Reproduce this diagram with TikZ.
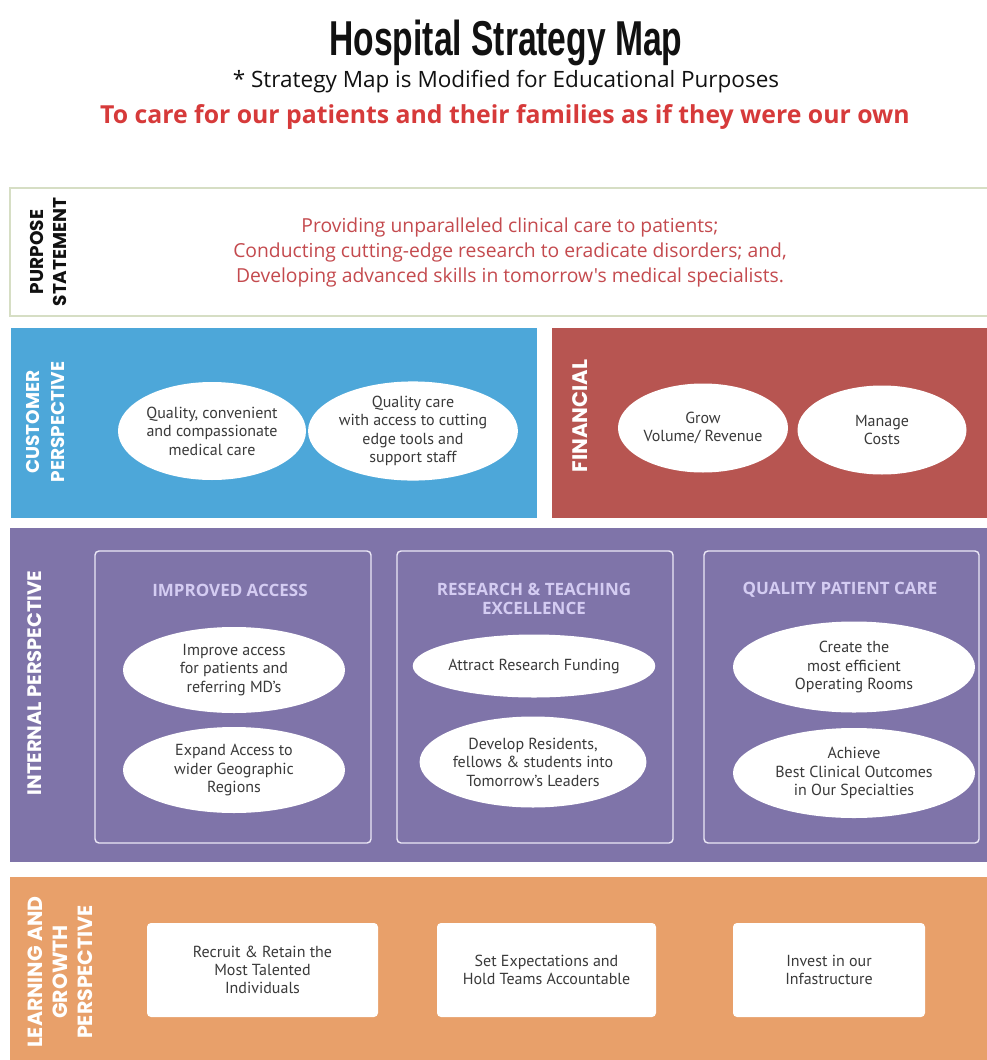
\documentclass[tikz,border=0pt]{standalone}
\usepackage{fontspec}
\setmainfont{PT Sans}
\newfontfamily\titlefont{Liberation Sans}
\newfontfamily\bodyfont{Open Sans}
\newfontfamily\capsfont{Poppins}
\usepackage{tikz}
\usetikzlibrary{positioning,shapes.geometric}
\definecolor{ink}{HTML}{111111}
\definecolor{mission}{HTML}{D63A3A}
\definecolor{purposeRed}{HTML}{C44A4E}
\definecolor{purposeLine}{HTML}{D6DEC4}
\definecolor{custBlue}{HTML}{4DA7D9}
\definecolor{finRed}{HTML}{B75551}
\definecolor{intPurple}{HTML}{7F74A9}
\definecolor{growOrange}{HTML}{E8A06A}
\definecolor{lavender}{HTML}{D4CCF2}
\definecolor{groupLine}{HTML}{ECE8F6}
\definecolor{goalText}{HTML}{3A3A3A}

\begin{document}
\begin{tikzpicture}[x=1pt,y=-1pt,
    band/.style={anchor=north west, inner sep=0pt, outer sep=0pt},
    persp/.style={rotate=90, text=white, inner sep=0pt, align=center,
      font=\capsfont\bfseries\fontsize{18.5}{25}\selectfont},
    goal/.style={ellipse, fill=white, inner sep=0pt, align=center, text=goalText,
      font=\fontsize{16}{18.5}\selectfont},
    group/.style={band, draw=groupLine, line width=1.4pt, rounded corners=4pt},
    grouphead/.style={text=lavender, align=center,
      font=\bodyfont\bfseries\fontsize{17}{19}\selectfont},
    enabler/.style={fill=white, rounded corners=4pt, inner sep=0pt, align=center,
      text=goalText, font=\fontsize{16}{18}\selectfont}]
  \useasboundingbox (0,0) rectangle (987,1060);

  % heading
  \node[font=\titlefont\bfseries\fontsize{49}{50}\selectfont, text=ink] (title) at (506,43)
    {\scalebox{0.686}[1]{Hospital Strategy Map}};
  \node[font=\bodyfont\fontsize{22.5}{24}\selectfont, text=ink] (note) at (506,82)
    {* Strategy Map is Modified for Educational Purposes};
  \node[font=\bodyfont\bfseries\fontsize{24.8}{26}\selectfont, text=mission] (mission) at (505,117)
    {To care for our patients and their families as if they were our own};

  % purpose statement
  \node[band, draw=purposeLine, line width=2pt, fill=white,
        minimum width=985, minimum height=128] (purpose) at (10,188) {};
  \node[persp, text=ink, font=\capsfont\bfseries\fontsize{18.5}{23}\selectfont] (purposeLbl) at (48,252)
    {PURPOSE\\STATEMENT};
  \node[align=center, text=purposeRed, font=\bodyfont\fontsize{19.3}{25}\selectfont] (purposeTxt) at (510,252)
    {Providing unparalleled clinical care to patients;\\
     Conducting cutting-edge research to eradicate disorders; and,\\
     Developing advanced skills in tomorrow's medical specialists.};

  % customer and financial
  \node[band, fill=custBlue, minimum width=526, minimum height=190] (cust) at (11,328) {};
  \node[persp] (custLbl) at (45,422) {CUSTOMER\\PERSPECTIVE};
  \node[goal, minimum width=188, minimum height=98] (c1) at (212,431)
    {Quality, convenient\\and compassionate\\medical care};
  \node[goal, minimum width=190, minimum height=98] (c2) at (413,431)
    {Quality care\\with access to cutting\\edge tools and\\support staff};

  \node[band, fill=finRed, minimum width=440, minimum height=190] (fin) at (552,328) {};
  \node[persp, font=\capsfont\bfseries\fontsize{21}{25}\selectfont] (finLbl) at (580,416) {FINANCIAL};
  \node[goal, minimum width=170, minimum height=89] (f1) at (703,428) {Grow\\Volume/ Revenue};
  \node[goal, minimum width=169, minimum height=89] (f2) at (882,430) {Manage\\Costs};

  % internal
  \node[band, fill=intPurple, minimum width=980, minimum height=334] (int) at (10,528) {};
  \node[persp, font=\capsfont\bfseries\fontsize{19.5}{25}\selectfont] (intLbl) at (35,683)
    {INTERNAL PERSPECTIVE};

  \node[group, minimum width=276, minimum height=292] (access) at (95,551) {};
  \node[grouphead] (accessHd) at (230,590) {IMPROVED ACCESS};
  \node[goal, minimum width=222, minimum height=86] (a1) at (234,670)
    {Improve access\\for patients and\\referring MD's};
  \node[goal, minimum width=222, minimum height=86] (a2) at (234,770)
    {Expand Access to\\wider Geographic\\Regions};

  \node[group, minimum width=276, minimum height=292] (research) at (397,551) {};
  \node[grouphead] (researchHd) at (534,599) {RESEARCH \& TEACHING\\EXCELLENCE};
  \node[goal, minimum width=222, minimum height=63] (r1) at (534,666) {Attract Research Funding};
  \node[goal, minimum width=220, minimum height=91] (r2) at (533,762)
    {Develop Residents,\\fellows \& students into\\Tomorrow's Leaders};

  \node[group, minimum width=275, minimum height=292] (care) at (704,551) {};
  \node[grouphead] (careHd) at (840,590) {QUALITY PATIENT CARE};
  \node[goal, minimum width=242, minimum height=91] (q1) at (854,667)
    {Create the\\most efficient\\Operating Rooms};
  \node[goal, minimum width=242, minimum height=90] (q2) at (854,773)
    {Achieve\\Best Clinical Outcomes\\in Our Specialties};

  % learning and growth
  \node[band, fill=growOrange, minimum width=980, minimum height=190] (grow) at (10,877) {};
  \node[persp, font=\capsfont\bfseries\fontsize{20.5}{25}\selectfont] (growLbl) at (60,972)
    {LEARNING AND\\GROWTH\\PERSPECTIVE};
  \node[enabler, minimum width=231, minimum height=94] (e1) at (262.5,970)
    {Recruit \& Retain the\\Most Talented\\Individuals};
  \node[enabler, minimum width=219, minimum height=94] (e2) at (546.5,970)
    {Set Expectations and\\Hold Teams Accountable};
  \node[enabler, minimum width=192, minimum height=94] (e3) at (829,970)
    {Invest in our\\Infastructure};
\end{tikzpicture}
\end{document}
